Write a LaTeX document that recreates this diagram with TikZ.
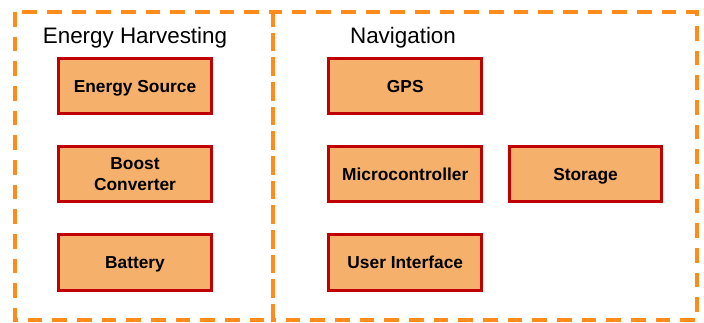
\documentclass[tikz,border=0pt]{standalone}
\usepackage{fontspec}
\setmainfont{Liberation Sans}
\usepackage{xcolor}
\usepackage{tikz}
\usetikzlibrary{positioning}
\definecolor{boxfill}{HTML}{F5B06C}
\definecolor{boxedge}{HTML}{C00000}
\definecolor{groupedge}{HTML}{FF8C1A}
\tikzstyle{block} = [rectangle, draw=boxedge, fill=boxfill, line width=2.2pt, minimum width=114.5pt, minimum height=41.5pt, text height=9.8pt, text depth=0.6pt, align=center, font=\bfseries\fontsize{13}{15.75}\selectfont]
\tikzstyle{group} = [draw=groupedge, line width=2.4pt, dash pattern=on 11pt off 7.5pt]
\tikzstyle{title} = [anchor=base, font=\fontsize{16.8}{18}\selectfont]

\begin{document}
\begin{tikzpicture}[x=0.75pt, y=-0.75pt, node distance=22.5pt and 86pt]
        \useasboundingbox (0,0) rectangle (704,322);
        % the two groups
        \draw[group] (15,12) rectangle (273,320);
        \draw[group] (273,12) rectangle (697,320);
        \node (harvest_t) [title] at (135,43) {Energy Harvesting};
        \node (nav_t) [title] at (403,43) {Navigation};

        \node (source) [block] at (135,86) {Energy Source};
        \node (boost) [block, below=of source, text height={}, text depth={}] {Boost\\Converter};
        \node (battery) [block, below=of boost] {Battery};
        \node (gps) [block, right=of source] {GPS};
        \node (mcu) [block, below=of gps] {Microcontroller};
        \node (storage) [block, right=of mcu, xshift=-67.5pt] {Storage};
        \node (ui) [block, below=of mcu] {User Interface};
    \end{tikzpicture}
\end{document}
